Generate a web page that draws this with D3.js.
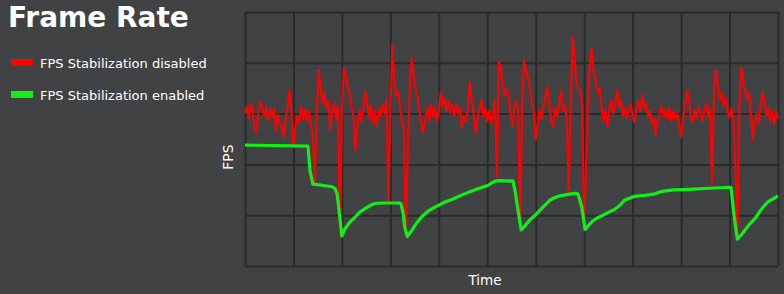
<!DOCTYPE html>
<html>
<head>
<meta charset="utf-8">
<script src="https://cdn.jsdelivr.net/npm/d3@7"></script>
<style>
  body { margin: 0; background: #414244; }
  svg { display: block; }
  text { font-family: "DejaVu Sans", Verdana, sans-serif; fill: #fff; }
  .grid line { stroke: #2a2a2a; stroke-width: 2; }
  .grid path { display: none; }
</style>
</head>
<body>
<script>
'use strict'

// time (s) and FPS
const title = 'Frame Rate'
const seriesNames = ['FPS Stabilization disabled', 'FPS Stabilization enabled']
const seriesColors = ['#ff0000', '#10f018']
const xTicks = [0, 10, 20, 30, 40, 50, 60, 70, 80, 90, 100, 110]
const yTicks = [0, 10, 20, 30, 40, 50]

// red: one sample every 0.4 s
const sampleStep = 0.4
const fpsDisabled = [
  30.0, 31.5, 29.0, 32.0, 30.5, 27.0, 26.2, 30.5, 32.4, 31.0,
  29.5, 31.2, 28.6, 30.8, 29.4, 31.0, 26.5, 29.8, 28.0, 27.5,
  25.4, 29.0, 31.5, 34.6, 30.0, 23.4, 27.5, 29.5, 28.3, 31.3,
  29.0, 30.8, 28.5, 30.5, 27.5, 25.4, 16.1, 30.0, 38.6, 35.0,
  32.0, 34.0, 31.0, 32.5, 26.8, 30.5, 32.0, 29.0, 31.5, 5.9,
  30.0, 39.0, 37.5, 35.5, 34.0, 31.5, 29.0, 22.8, 28.0, 30.5,
  28.5, 31.0, 34.2, 32.5, 29.0, 31.5, 28.0, 30.5, 27.5, 31.0,
  29.5, 31.8, 30.0, 32.7, 13.0, 30.0, 43.5, 37.0, 33.5, 34.2,
  31.5, 28.5, 26.8, 6.1, 22.0, 35.0, 40.9, 37.5, 35.0, 33.0,
  30.7, 28.0, 26.2, 29.0, 31.0, 28.5, 32.0, 29.5, 31.0, 28.5,
  30.5, 34.2, 31.5, 33.0, 30.5, 32.5, 30.0, 31.8, 29.5, 32.0,
  30.0, 31.0, 27.2, 29.5, 28.5, 31.0, 36.2, 33.0, 30.0, 26.2,
  29.0, 31.0, 32.7, 29.5, 31.0, 28.5, 30.5, 28.0, 30.0, 32.7,
  17.5, 40.2, 39.0, 35.5, 33.5, 35.0, 33.0, 30.0, 27.4, 31.0,
  32.5, 30.5, 7.1, 32.0, 40.6, 38.5, 37.0, 35.0, 32.0, 30.5,
  24.8, 28.0, 30.5, 29.0, 31.5, 33.5, 35.2, 32.0, 28.5, 27.4,
  31.0, 29.5, 32.0, 34.6, 30.5, 31.5, 29.0, 14.4, 30.0, 45.1,
  41.0, 36.0, 35.0, 34.6, 31.0, 7.1, 20.0, 34.0, 40.0, 42.7,
  38.0, 36.5, 34.0, 35.0, 31.0, 28.5, 30.5, 27.5, 31.0, 32.5,
  30.0, 32.0, 34.6, 31.5, 32.5, 29.5, 31.0, 29.0, 30.5, 32.0,
  29.5, 28.2, 31.0, 32.5, 30.5, 33.7, 31.0, 32.0, 29.5, 30.5,
  28.0, 29.0, 25.8, 28.5, 30.0, 31.5, 29.5, 30.5, 29.0, 31.0,
  28.5, 30.5, 29.0, 30.0, 28.0, 25.4, 29.0, 31.5, 34.6, 33.0,
  29.5, 28.2, 30.5, 29.0, 31.3, 30.0, 28.5, 30.5, 32.0, 29.5,
  31.0, 15.9, 34.0, 38.6, 35.5, 33.0, 34.0, 31.5, 33.0, 30.5,
  29.3, 31.0, 28.5, 20.0, 5.5, 30.0, 39.0, 37.0, 34.5, 33.0,
  34.0, 30.0, 24.8, 28.5, 30.0, 28.0, 31.5, 34.2, 32.5, 29.5,
  31.0, 28.5, 30.5, 28.0, 30.5, 29.0
]

// green: [time, fps]
const fpsEnabled = [
  [0, 23.8], [13.0, 23.6], [13.4, 18.9], [14.0, 16.1], [15.9, 15.9],
  [18.0, 15.6], [18.6, 15.2], [19.0, 14.2], [19.4, 11.0], [20.0, 5.9],
  [20.6, 7.3], [21.7, 8.7], [22.7, 9.6], [23.7, 10.6], [24.8, 11.3],
  [25.8, 11.9], [26.8, 12.3], [28.3, 12.4], [32.0, 12.4], [32.2, 12.2],
  [32.6, 10.6], [33.0, 7.5], [33.5, 5.8], [34.5, 7.1], [35.3, 8.3],
  [36.5, 9.7], [37.8, 10.8], [39.2, 11.6], [41.3, 12.6], [42.7, 13.1],
  [44.8, 14.0], [47.5, 15.0], [50.2, 15.9], [51.6, 16.7], [52.6, 16.8],
  [55.3, 16.7], [55.7, 15.0], [56.1, 12.4], [57.0, 7.1], [57.8, 7.9],
  [58.8, 9.1], [59.9, 10.0], [60.9, 11.0], [61.9, 12.0], [63.0, 13.0],
  [64.0, 13.5], [65.0, 13.8], [66.7, 14.1], [68.1, 14.3], [68.7, 14.2],
  [69.1, 13.0], [69.5, 11.6], [70.2, 7.2], [70.8, 7.9], [71.6, 8.7],
  [72.6, 9.4], [73.9, 10.0], [75.3, 10.7], [76.4, 11.2], [77.4, 12.0],
  [78.4, 13.0], [79.5, 13.4], [80.3, 13.7], [82.6, 13.9], [84.6, 14.2],
  [86.1, 14.7], [88.4, 15.0], [91.8, 15.1], [96.0, 15.3], [100.1, 15.5],
  [100.3, 15.4], [100.7, 12.0], [101.1, 8.7], [101.6, 5.3], [102.4, 6.1],
  [103.2, 7.1], [104.2, 8.3], [105.3, 9.4], [106.3, 10.8], [107.1, 11.8],
  [107.9, 12.6], [108.8, 13.1], [110.0, 13.8]
]

const width = 784
const height = 294
const plot = {left: 245, right: 778, top: 12, bottom: 266}

const x = d3.scaleLinear()
  .domain([0, 110])
  .range([plot.left, plot.right])

const y = d3.scaleLinear()
  .domain([0, 50])
  .range([plot.bottom, plot.top])

const svg = d3.select('body').append('svg')
  .attr('width', width)
  .attr('height', height)

svg.append('g')
    .attr('class', 'grid')
    .attr('transform', 'translate(0,' + plot.bottom + ')')
    .call(d3.axisBottom(x).tickValues(xTicks).tickSize(-(plot.bottom - plot.top)).tickFormat(''))

svg.append('g')
    .attr('class', 'grid')
    .attr('transform', 'translate(' + plot.left + ',0)')
    .call(d3.axisLeft(y).tickValues(yTicks).tickSize(-(plot.right - plot.left)).tickFormat(''))

const line = d3.line()
  .x(d => x(d[0]))
  .y(d => y(d[1]))

svg.append('path')
    .datum(fpsDisabled.map((v, i) => [i * sampleStep, v]))
    .attr('fill', 'none')
    .attr('stroke', seriesColors[0])
    .attr('stroke-width', 2.1)
    .attr('stroke-linejoin', 'round')
    .attr('d', line)

svg.append('path')
    .datum(fpsEnabled)
    .attr('fill', 'none')
    .attr('stroke', seriesColors[1])
    .attr('stroke-width', 3.2)
    .attr('stroke-linejoin', 'round')
    .attr('d', line)

svg.append('text')
    .attr('x', 8)
    .attr('y', 27)
    .style('font-size', '28px')
    .style('font-weight', 'bold')
    .text(title)

const legend = svg.selectAll('.legend')
    .data(seriesNames)
  .enter().append('g')
    .attr('class', 'legend')
    .attr('transform', (d, i) => 'translate(11,' + (59 + i * 32) + ')')

legend.append('rect')
    .attr('width', 22)
    .attr('height', 7)
    .attr('fill', (d, i) => seriesColors[i])

legend.append('text')
    .attr('x', 29)
    .attr('y', 9)
    .style('font-size', '13px')
    .text(d => d)

svg.append('text')
    .attr('transform', 'translate(233,157) rotate(-90)')
    .style('text-anchor', 'middle')
    .style('font-size', '14px')
    .text('FPS')

svg.append('text')
    .attr('x', 485)
    .attr('y', 285)
    .style('text-anchor', 'middle')
    .style('font-size', '13.5px')
    .text('Time')
</script>
</body>
</html>
